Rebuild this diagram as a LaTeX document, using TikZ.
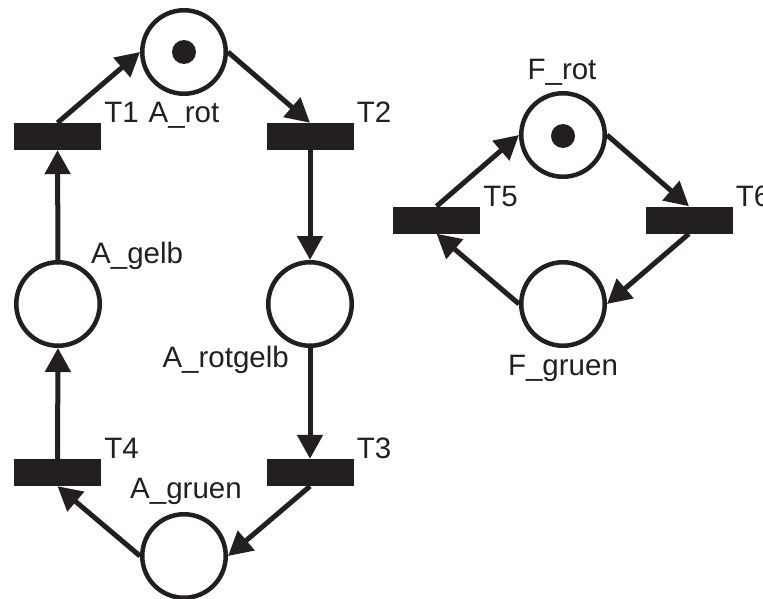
\documentclass[tikz,border=0pt]{standalone}
\usepackage{fontspec}
\setmainfont{Liberation Sans}
\usetikzlibrary{arrows.meta}
\definecolor{ink}{RGB}{35,31,32}
\begin{document}
\begin{tikzpicture}[x=1pt,y=-1pt,
 place/.style={circle,draw=ink,line width=4.5pt,minimum size=83.5pt,inner sep=0pt,fill=white},
 trans/.style={rectangle,fill=ink,minimum width=87pt,minimum height=27pt,inner sep=0pt},
 token/.style={circle,fill=ink,minimum size=24pt,inner sep=0pt},
 arc/.style={draw=ink,line width=5pt,-{Triangle[length=24pt,width=25pt]}},
 lbl/.style={font=\fontsize{29.5}{34}\selectfont,text=ink,inner sep=0pt}]
\useasboundingbox (0,0) rectangle (763,599);
\fill[white] (0,0) rectangle (763,599);
% places
\node[place] (Arot) at (184,52) {};
\node[token] (tA) at (184,52) {};
\node[place] (Agelb) at (58,304) {};
\node[place] (Arotgelb) at (310,304) {};
\node[place] (Agruen) at (184,556) {};
\node[place] (Frot) at (563,135) {};
\node[token] (tF) at (563,136) {};
\node[place] (Fgruen) at (563,304) {};
% transitions
\node[trans] (T1) at (57.5,136.5) {};
\node[trans] (T2) at (310,136.5) {};
\node[trans] (T3) at (310,472.5) {};
\node[trans] (T4) at (57.5,472.5) {};
\node[trans] (T5) at (436.5,220) {};
\node[trans] (T6) at (689,220) {};
% arcs
\draw[arc] (T1.north) -- (Arot.west);
\draw[arc] (Arot.east) -- (T2.north);
\draw[arc] (T2.south) -- (Arotgelb.north);
\draw[arc] (Arotgelb.south) -- (T3.north);
\draw[arc] (T3.south) -- (Agruen.east);
\draw[arc] (Agruen.west) -- (T4.south);
\draw[arc] (T4.north) -- (Agelb.south);
\draw[arc] (Agelb.north) -- (T1.south);
\draw[arc] (T5.north) -- (Frot.west);
\draw[arc] (Frot.east) -- (T6.north);
\draw[arc] (T6.south) -- (Fgruen.east);
\draw[arc] (Fgruen.west) -- (T5.south);
% labels
\node[lbl,anchor=base west] (lT1) at ([xshift=3pt]T1.north east) {T1};
\node[lbl,anchor=base west] (lT2) at ([xshift=3pt]T2.north east) {T2};
\node[lbl,anchor=base west] (lT3) at ([xshift=3pt]T3.north east) {T3};
\node[lbl,anchor=base west] (lT4) at ([xshift=3pt]T4.north east) {T4};
\node[lbl,anchor=base west] (lT5) at ([xshift=3pt]T5.north east) {T5};
\node[lbl,anchor=base west] (lT6) at ([xshift=3pt]T6.north east) {T6};
\node[lbl,anchor=base] (lArot) at (184,123) {A\_rot};
\node[lbl,anchor=base west] (lAgelb) at (91,263) {A\_gelb};
\node[lbl,anchor=base east] (lArotgelb) at (289,367) {A\_rotgelb};
\node[lbl,anchor=base] (lAgruen) at (186,498) {A\_gruen};
\node[lbl,anchor=base] (lFrot) at (562,80) {F\_rot};
\node[lbl,anchor=base] (lFgruen) at (563,375) {F\_gruen};
\end{tikzpicture}
\end{document}
